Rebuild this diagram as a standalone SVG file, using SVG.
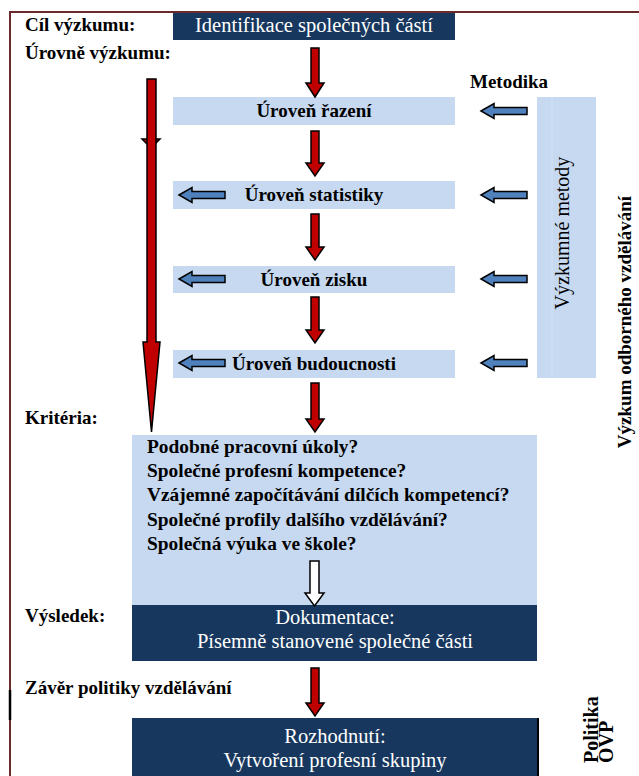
<svg xmlns="http://www.w3.org/2000/svg" width="639" height="776" viewBox="0 0 639 776" font-family="Liberation Serif">
<defs>
<polygon id="blueArrow" points="0,0 13,-7.5 13,-3.5 46,-3.5 46,3.5 13,3.5 13,7.5" fill="#4f81bd" stroke="#000" stroke-width="1.5"/>
</defs>
<rect width="639" height="776" fill="#fff"/>
<g id="frame">
<line x1="9" y1="12" x2="639" y2="12" stroke="#6b2a2a" stroke-width="2"/>
<line x1="10" y1="11" x2="10" y2="776" stroke="#6b2a2a" stroke-width="2"/>
<line x1="10" y1="690" x2="10" y2="720" stroke="#000" stroke-width="2.5"/>
</g>
<g id="labels" font-family="Liberation Serif" font-weight="bold" font-size="19" fill="#000">
<text x="25" y="31">Cíl výzkumu:</text>
<text x="25" y="59">Úrovně výzkumu:</text>
<text x="470" y="88">Metodika</text>
<text x="25" y="424">Kritéria:</text>
<text x="25" y="622">Výsledek:</text>
<text x="25" y="694">Závěr politiky vzdělávání</text>
<text transform="translate(631,322) rotate(-90)" text-anchor="middle">Výzkum odborného vzdělávání</text>
<text font-size="20" transform="translate(598,763) rotate(-90)">Politika</text>
<text font-size="20" transform="translate(613,763) rotate(-90)">OVP</text>
</g>
<g id="goal" font-family="Liberation Serif" font-size="20.5" fill="#fff">
<rect x="173" y="13" width="282" height="27" fill="#17375e"/>
<text x="314" y="32" text-anchor="middle">Identifikace společných částí</text>
</g>
<g id="level-razeni" font-family="Liberation Serif" font-weight="bold" font-size="19">
<rect x="173" y="97" width="282" height="28" fill="#c6d9f0"/>
<text x="314" y="117" text-anchor="middle" fill="#000">Úroveň řazení</text>
</g>
<g id="level-statistiky" font-family="Liberation Serif" font-weight="bold" font-size="19">
<rect x="173" y="181" width="282" height="28" fill="#c6d9f0"/>
<text x="314" y="201" text-anchor="middle" fill="#000">Úroveň statistiky</text>
</g>
<g id="level-zisku" font-family="Liberation Serif" font-weight="bold" font-size="19">
<rect x="173" y="266" width="282" height="27" fill="#c6d9f0"/>
<text x="314" y="286" text-anchor="middle" fill="#000">Úroveň zisku</text>
</g>
<g id="level-budoucnosti" font-family="Liberation Serif" font-weight="bold" font-size="19">
<rect x="173" y="350" width="282" height="28" fill="#c6d9f0"/>
<text x="314" y="370" text-anchor="middle" fill="#000">Úroveň budoucnosti</text>
</g>
<g id="methods" font-family="Liberation Serif" font-size="20">
<rect x="537" y="97" width="59" height="281" fill="#c6d9f0"/>
<line x1="552" y1="97" x2="552" y2="378" stroke="#d3e2f4" stroke-width="1"/>
<text transform="translate(569,233) rotate(-90)" text-anchor="middle" fill="#000">Výzkumné metody</text>
</g>
<g id="criteria" font-family="Liberation Serif" font-weight="bold" font-size="19.4">
<rect x="132" y="435" width="405" height="170" fill="#c6d9f0"/>
<text x="147" y="453" fill="#000">Podobné pracovní úkoly?</text>
<text x="147" y="477" fill="#000">Společné profesní kompetence?</text>
<text x="147" y="501" fill="#000">Vzájemné započítávání dílčích kompetencí?</text>
<text x="147" y="526" fill="#000">Společné profily dalšího vzdělávání?</text>
<text x="147" y="550" fill="#000">Společná výuka ve škole?</text>
</g>
<g id="result" font-family="Liberation Serif" font-size="20.5">
<rect x="132" y="605" width="405" height="56" fill="#17375e"/>
<text x="335" y="624" text-anchor="middle" fill="#fff">Dokumentace:</text>
<text x="335" y="648" text-anchor="middle" fill="#fff">Písemně stanovené společné části</text>
</g>
<g id="decision" font-family="Liberation Serif" font-size="20.5">
<rect x="132" y="718" width="405" height="58" fill="#17375e"/>
<line x1="538" y1="718" x2="538" y2="776" stroke="#000" stroke-width="2"/>
<text x="335" y="743" text-anchor="middle" fill="#fff">Rozhodnutí:</text>
<text x="335" y="767" text-anchor="middle" fill="#fff">Vytvoření profesní skupiny</text>
</g>
<g id="connectors">
<g fill="#c00000" stroke="#000" stroke-width="1.5">
<polygon points="142,139 160,139 151,148"/>
<polygon points="147,79 156,79 156,342 160,342 151.5,432 143,342 147,342"/>
<polygon points="311,48 319,48 319,83 324,83 315,97 306,83 311,83"/>
<polygon points="311,131 319,131 319,163 324,163 315,176 306,163 311,163"/>
<polygon points="311,214 319,214 319,247 324,247 315,260 306,247 311,247"/>
<polygon points="311,297 319,297 319,330 324,330 315,343 306,330 311,330"/>
<polygon points="311,383 319,383 319,419 324,419 315,432 306,419 311,419"/>
<polygon points="311,668 319,668 319,703 324,703 315,716 306,703 311,703"/>
</g>
<polygon points="310,561 319,561 319,593 324,593 314.5,606 305,593 310,593" fill="#fff" stroke="#000" stroke-width="1.5"/>
<use href="#blueArrow" x="481" y="111"/>
<use href="#blueArrow" x="481" y="195"/>
<use href="#blueArrow" x="481" y="279"/>
<use href="#blueArrow" x="481" y="363"/>
<use href="#blueArrow" x="179" y="195"/>
<use href="#blueArrow" x="179" y="279"/>
<use href="#blueArrow" x="179" y="363"/>
</g>
</svg>
